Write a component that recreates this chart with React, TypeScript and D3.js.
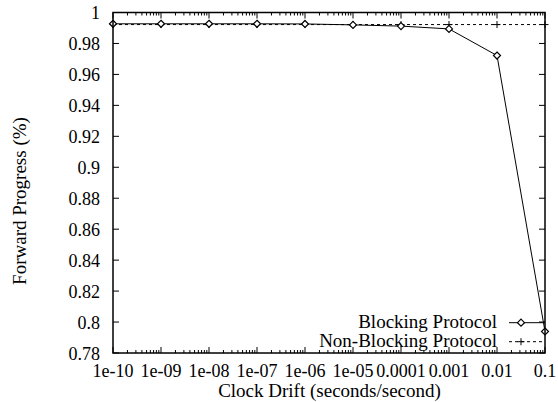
import { useEffect, useRef } from 'react';
import * as d3 from 'd3';

// datos
const drift = [1e-10, 1e-9, 1e-8, 1e-7, 1e-6, 1e-5, 1e-4, 1e-3, 1e-2, 1e-1];
const driftLabels = ['1e-10', '1e-09', '1e-08', '1e-07', '1e-06', '1e-05', '0.0001', '0.001', '0.01', '0.1'];
const blocking = [0.9927, 0.9927, 0.9927, 0.9927, 0.9926, 0.9920, 0.9912, 0.9894, 0.9722, 0.7939];
const nonBlocking = [0.9922, 0.9922, 0.9922, 0.9922, 0.9922, 0.9922, 0.9922, 0.9922, 0.9922, 0.9922];
const yTicks = [0.78, 0.8, 0.82, 0.84, 0.86, 0.88, 0.9, 0.92, 0.94, 0.96, 0.98, 1];

const W = 558;
const H = 402;
const FONT = "'Liberation Serif', 'DejaVu Serif', 'Times New Roman', Times, serif";

const App = () => {
  const svgRef = useRef<SVGSVGElement | null>(null);

  useEffect(() => {
    if (!svgRef.current) return;
    const svg = d3.select(svgRef.current);
    svg.selectAll('*').remove();

    const left = 113, right = 545, top = 12.5, bottom = 353;
    const x = d3.scaleLog().domain([1e-10, 0.1]).range([left, right]);
    const y = d3.scaleLinear().domain([0.78, 1]).range([bottom, top]);

    // marcas menores (2..9 en cada década)
    const minor: number[] = [];
    for (let e = -10; e < -1; e++) {
      for (let k = 2; k <= 9; k++) minor.push(k * Math.pow(10, e));
    }

    const g = svg.append('g').attr('stroke', '#000').attr('fill', 'none');

    // ticks del eje x, arriba y abajo
    drift.forEach(v => {
      g.append('line').attr('x1', x(v)).attr('x2', x(v)).attr('y1', bottom).attr('y2', bottom - 6);
      g.append('line').attr('x1', x(v)).attr('x2', x(v)).attr('y1', top).attr('y2', top + 6);
    });
    minor.forEach(v => {
      g.append('line').attr('x1', x(v)).attr('x2', x(v)).attr('y1', bottom).attr('y2', bottom - 3);
      g.append('line').attr('x1', x(v)).attr('x2', x(v)).attr('y1', top).attr('y2', top + 3);
    });
    // ticks del eje y, izquierda y derecha
    yTicks.forEach(v => {
      g.append('line').attr('x1', left).attr('x2', left + 6).attr('y1', y(v)).attr('y2', y(v));
      g.append('line').attr('x1', right).attr('x2', right - 6).attr('y1', y(v)).attr('y2', y(v));
    });

    // etiquetas
    const txt = svg.append('g').style('font-family', FONT).style('font-size', '19px').attr('fill', '#000');
    drift.forEach((v, i) => {
      txt.append('text').attr('x', x(v)).attr('y', 376.5).attr('text-anchor', 'middle')
        .style('font-size', '18px').text(driftLabels[i]);
    });
    yTicks.forEach(v => {
      txt.append('text').attr('x', 100).attr('y', y(v) + 6.5).attr('text-anchor', 'end')
        .style('font-size', '18px').text(String(+v.toFixed(2)));
    });
    txt.append('text').attr('x', 329.5).attr('y', 397).attr('text-anchor', 'middle')
      .text('Clock Drift (seconds/second)');
    txt.append('text').attr('transform', 'translate(26,201) rotate(-90)')
      .attr('text-anchor', 'middle').text('Forward Progress (%)');

    // series
    const line = d3.line<number>().x((_, i) => x(drift[i]));

    svg.append('path').datum(nonBlocking)
      .attr('d', line.y(d => y(d)))
      .attr('fill', 'none').attr('stroke', '#000').attr('stroke-width', 1)
      .attr('stroke-dasharray', '3,3');
    nonBlocking.forEach((d, i) => {
      const cx = x(drift[i]), cy = y(d);
      svg.append('path').attr('d', `M${cx - 3.5},${cy}H${cx + 3.5}M${cx},${cy - 3.5}V${cy + 3.5}`)
        .attr('stroke', '#000').attr('stroke-width', 1);
    });

    svg.append('path').datum(blocking)
      .attr('d', line.y(d => y(d)))
      .attr('fill', 'none').attr('stroke', '#000').attr('stroke-width', 1);
    const diamond = (cx: number, cy: number) =>
      svg.append('path').attr('d', `M${cx},${cy - 3.5}L${cx + 3.5},${cy}L${cx},${cy + 3.5}L${cx - 3.5},${cy}Z`)
        .attr('fill', '#fff').attr('stroke', '#000').attr('stroke-width', 1.2);
    blocking.forEach((d, i) => diamond(x(drift[i]), y(d)));

    // leyenda
    const ly1 = 322.7, ly2 = 341.7;
    txt.append('text').attr('x', 497).attr('y', 328.3).attr('text-anchor', 'end').text('Blocking Protocol');
    txt.append('text').attr('x', 497).attr('y', 347).attr('text-anchor', 'end').text('Non-Blocking Protocol');
    svg.append('line').attr('x1', 509).attr('x2', 545).attr('y1', ly1).attr('y2', ly1)
      .attr('stroke', '#000');
    diamond(521, ly1);
    svg.append('line').attr('x1', 509).attr('x2', 545).attr('y1', ly2).attr('y2', ly2)
      .attr('stroke', '#000').attr('stroke-dasharray', '3,3');
    svg.append('path').attr('d', `M${517.5},${ly2}H${524.5}M${521},${ly2 - 3.5}V${ly2 + 3.5}`)
      .attr('stroke', '#000');

    // marco
    svg.append('rect').attr('x', left).attr('y', top).attr('width', right - left).attr('height', bottom - top)
      .attr('fill', 'none').attr('stroke', '#000').attr('stroke-width', 1.5);
  }, []);

  return (
    <svg ref={svgRef} width={W} height={H}
      style={{ position: 'absolute', left: 0, top: 0, background: '#fff' }} />
  );
};

export default App;
